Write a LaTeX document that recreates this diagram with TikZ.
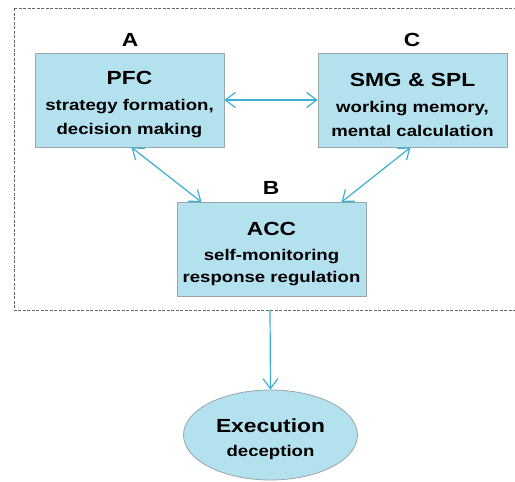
\documentclass[tikz,border=0pt]{standalone}
\usepackage{fontspec}
\setmainfont[FakeStretch=1.2]{Liberation Sans}
\usetikzlibrary{arrows.meta,shapes.geometric}
\definecolor{boxfill}{HTML}{B4E1EE}
\definecolor{boxline}{HTML}{9AA6AA}
\definecolor{link}{HTML}{3AAFD2}
\newcommand{\headline}{\fontsize{19}{24}\selectfont\rule{0pt}{23pt}}
\tikzset{
  region/.style={draw=boxline, line width=0.8pt, fill=boxfill, minimum width=189pt, minimum height=94pt, inner sep=0pt, align=center, font=\fontsize{15.5}{24}\selectfont\bfseries},
  letter/.style={font=\fontsize{19}{22}\selectfont\bfseries},
  tip/.tip={Straight Barb[length=10pt,width=15pt]},
  link/.style={draw=link, line width=1.2pt, tip-tip},
  onelink/.style={draw=link, line width=1.2pt, -tip},
  frame/.style={draw=black!60, line width=0.8pt, dash pattern=on 3pt off 1.5pt}
}
\begin{document}
\begin{tikzpicture}[x=1pt,y=-1pt]
\useasboundingbox (0,0) rectangle (515,482);
\begin{scope}
\clip (0,0) rectangle (515,482);
\draw[frame] (14,8) -- (540,8) (14,8) -- (14,310) -- (540,310);
\end{scope}
\node[region] (pfc) at (129.5,100) {{\headline PFC}\\[2pt]strategy formation,\\decision making};
\node[region] (smg) at (412.5,100) {{\headline SMG \& SPL}\\[2pt]working memory,\\mental calculation};
\node[region] (acc) at (271.5,249.5) {{\headline ACC}\\[1pt]self-monitoring\\[-2pt]response regulation};
\node[region, ellipse, minimum width=174pt, minimum height=90pt] (exe) at (270.5,435)
  {{\headline Execution}\\deception};
\node[letter] (la) at (130,40) {A};
\node[letter] (lc) at (412,40) {C};
\node[letter] (lb) at (271,188) {B};
\coordinate (framebottom) at (270,310);
\draw[link] (pfc.east) -- (smg.west);
\draw[link] ([xshift=2pt]pfc.south) -- ([xshift=-70pt]acc.north);
\draw[link] ([xshift=-2pt]smg.south) -- ([xshift=70pt]acc.north);
\draw[onelink] (framebottom) -- (exe.north);
\end{tikzpicture}
\end{document}
